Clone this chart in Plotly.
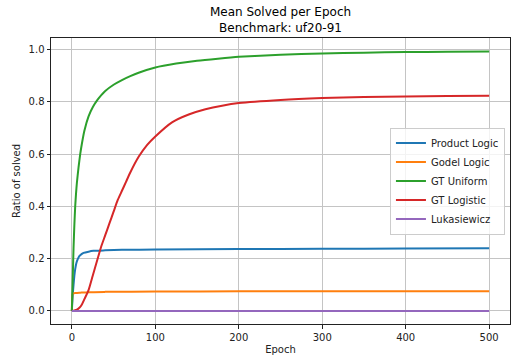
import plotly.graph_objects as go

# Data
green_epochs = [0, 1, 2, 3, 4, 5, 6, 8, 10, 12, 15, 20, 25, 30, 35, 40, 50, 60, 70, 80,
                100, 125, 150, 175, 200, 250, 300, 350, 400, 450, 500]
gt_uniform = [0.0, 0.12, 0.24, 0.33, 0.40, 0.45, 0.49, 0.55, 0.60, 0.64, 0.69, 0.745, 0.78,
              0.805, 0.825, 0.842, 0.866, 0.884, 0.899, 0.912, 0.932, 0.947, 0.958, 0.966,
              0.973, 0.981, 0.986, 0.989, 0.991, 0.992, 0.9935]

red_epochs = [0, 3, 6, 9, 12, 15, 20, 25, 30, 35, 40, 45, 50, 55, 60, 65, 70, 80, 90, 100,
              120, 140, 160, 180, 200, 250, 300, 350, 400, 450, 500]
gt_logistic = [0.0, 0.002, 0.005, 0.012, 0.025, 0.045, 0.08, 0.135, 0.19, 0.245, 0.29, 0.335,
               0.38, 0.425, 0.46, 0.495, 0.53, 0.59, 0.635, 0.668, 0.722, 0.752, 0.772,
               0.786, 0.796, 0.808, 0.815, 0.819, 0.821, 0.823, 0.824]

blue_epochs = [0, 1, 2, 3, 4, 5, 6, 8, 10, 14, 20, 26, 40, 60, 100, 200, 300, 400, 500]
product_logic = [0.0, 0.06, 0.10, 0.135, 0.16, 0.178, 0.19, 0.205, 0.213, 0.222, 0.227, 0.23,
                 0.232, 0.234, 0.235, 0.237, 0.238, 0.239, 0.24]

orange_epochs = [0, 1, 2, 5, 10, 20, 40, 100, 200, 500]
godel_logic = [0.0, 0.066, 0.068, 0.069, 0.070, 0.072, 0.073, 0.074, 0.075, 0.0755]

purple_epochs = [0, 500]
lukasiewicz = [0.0, 0.0]

series = [
    ("Product Logic", blue_epochs, product_logic, "#1f77b4"),
    ("Godel Logic", orange_epochs, godel_logic, "#ff7f0e"),
    ("GT Uniform", green_epochs, gt_uniform, "#2ca02c"),
    ("GT Logistic", red_epochs, gt_logistic, "#d62728"),
    ("Lukasiewicz", purple_epochs, lukasiewicz, "#9467bd"),
]

x_ticks = [0, 100, 200, 300, 400, 500]
y_ticks = [0.0, 0.2, 0.4, 0.6, 0.8, 1.0]

fig = go.Figure()
for name, xs, ys, color in series:
    fig.add_trace(go.Scatter(x=xs, y=ys, mode="lines", name=name,
                             line=dict(color=color, width=2, shape="spline", smoothing=0.6)))

font = "DejaVu Sans"
axis_common = dict(
    showline=True, mirror=True, linecolor="#222222", linewidth=1,
    ticks="outside", ticklen=3.5, tickwidth=1, tickcolor="#222222",
    showgrid=True, gridcolor="#c4c4c4", gridwidth=1,
    zeroline=False,
    tickfont=dict(family=font, size=10, color="#222222"),
)

fig.update_layout(
    width=511, height=358,
    margin=dict(l=51, r=1, t=38, b=34),
    paper_bgcolor="white", plot_bgcolor="white",
    title=dict(text="Mean Solved per Epoch<br>Benchmark: uf20-91",
               x=0.5, xref="paper", xanchor="center",
               y=0.955, yref="container", yanchor="top",
               font=dict(family=font, size=12, color="black")),
    xaxis=dict(range=[-25, 525], tickvals=x_ticks,
               title=dict(text="Epoch", font=dict(family=font, size=10, color="#222222"),
                          standoff=4),
               **axis_common),
    yaxis=dict(range=[-0.05, 1.045], tickvals=y_ticks, tickformat=".1f",
               title=dict(text="Ratio of solved", font=dict(family=font, size=10, color="#222222"),
                          standoff=6),
               **axis_common),
    legend=dict(x=0.989, xanchor="right", y=0.5, yanchor="middle",
                bgcolor="rgba(255,255,255,0.8)", bordercolor="#cccccc", borderwidth=1,
                font=dict(family=font, size=10, color="#222222"),
                itemwidth=30, tracegroupgap=0),
    showlegend=True,
)

fig.write_html("out.html", config={"displayModeBar": False},
               post_script="document.body.style.margin='0';")
